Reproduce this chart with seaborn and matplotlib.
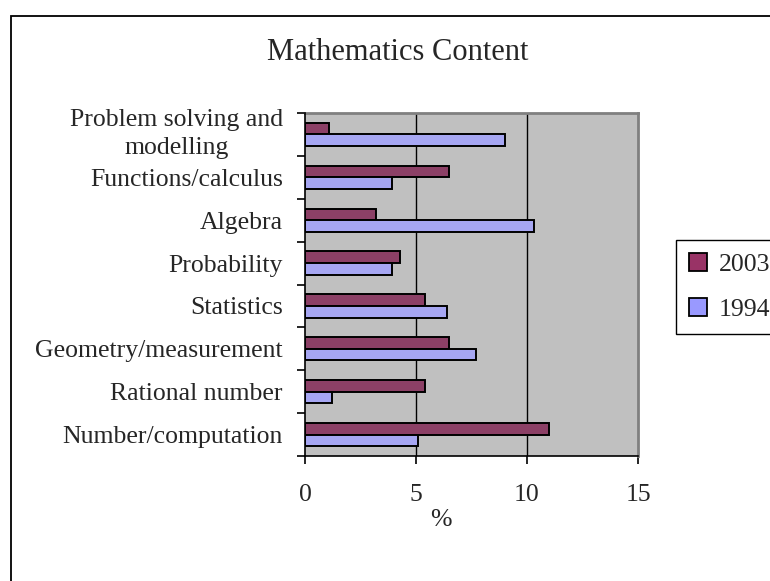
import matplotlib
matplotlib.use("Agg")
import matplotlib.pyplot as plt
from matplotlib.patches import Patch, Rectangle
from matplotlib.ticker import FixedLocator
import numpy as np
import pandas as pd
import seaborn as sns

# Topics, listed top to bottom as they appear on the chart
topics = [
    "Problem solving and\nmodelling",
    "Functions/calculus",
    "Algebra",
    "Probability",
    "Statistics",
    "Geometry/measurement",
    "Rational number",
    "Number/computation",
]
share_2003 = [1.1, 6.5, 3.2, 4.3, 5.4, 6.5, 5.4, 11.0]
share_1994 = [9.0, 3.9, 10.3, 3.9, 6.4, 7.7, 1.2, 5.1]
years = ["2003", "1994"]
x_ticks = [0, 5, 10, 15]

colors = {"2003": "#993366", "1994": "#9999FF"}

df = pd.concat([
    pd.DataFrame({"topic": topics, "pct": share_2003, "year": "2003"}),
    pd.DataFrame({"topic": topics, "pct": share_1994, "year": "1994"}),
], ignore_index=True)

sns.set_style("white")
plt.rcParams["font.family"] = ["Liberation Serif", "DejaVu Serif"]

W, H = 770, 581
fig = plt.figure(figsize=(W / 100, H / 100), dpi=100)
ax = fig.add_axes([305 / W, 1 - 456 / H, (638 - 305) / W, (456 - 113) / H])

sns.barplot(
    data=df, x="pct", y="topic", hue="year", hue_order=years,
    order=topics, palette=colors, width=0.545, gap=0,
    edgecolor="black", linewidth=1.4, legend=False, ax=ax, zorder=3,
)

ax.set_facecolor("#C0C0C0")
ax.set_xlim(x_ticks[0], x_ticks[-1])
ax.set_ylim(len(topics) - 0.5, -0.5)

# vertical gridlines at the interior ticks
for t in x_ticks[1:-1]:
    ax.axvline(t, color="black", lw=1.0, zorder=1)

ax.set_xticks(x_ticks)
ax.set_xticklabels([str(t) for t in x_ticks], fontsize=18.5)
ax.tick_params(axis="x", direction="out", length=6, width=1.2, color="black", pad=14, bottom=True)

# category labels centred on each group, tick marks on category boundaries
ax.set_yticks(range(len(topics)))
ax.set_yticklabels(topics, fontsize=18.5, multialignment="center", linespacing=1.35)
for lbl in ax.get_yticklabels():
    if "\n" in lbl.get_text():
        lbl.set_va("center")
ax.tick_params(axis="y", which="major", length=0, pad=16)
ax.yaxis.set_minor_locator(FixedLocator(np.arange(-0.5, len(topics), 1.0)))
ax.tick_params(axis="y", which="minor", direction="out", length=6, width=1.2, color="black", left=True)

ax.set_xlabel("")
ax.set_ylabel("")

for side in ("top", "right"):
    ax.spines[side].set_color("#808080")
    ax.spines[side].set_linewidth(2.0)
for side in ("left", "bottom"):
    ax.spines[side].set_color("black")
    ax.spines[side].set_linewidth(1.2)
    ax.spines[side].set_zorder(4)

fig.text(398 / W, 1 - 53 / H, "Mathematics Content", fontsize=22, ha="center", va="center")
fig.text(441 / W, 1 - 520 / H, "%", fontsize=18.5, ha="center", va="center")

# outer chart frame
fig.patches.append(Rectangle((11 / W, -0.1), 1.2, 1 - 16 / H + 0.1, transform=fig.transFigure,
                             fill=False, edgecolor="black", linewidth=1.3))

handles = [Patch(facecolor=colors[y], edgecolor="black", linewidth=1.3, label=y) for y in years]
fig.legend(
    handles=handles, loc="upper left", bbox_to_anchor=(676 / W, 1 - 240 / H),
    fontsize=18.5, frameon=True, fancybox=False, edgecolor="black", framealpha=1,
    handlelength=0.7, handleheight=0.7, handletextpad=0.45, borderpad=0.5,
    labelspacing=0.85, borderaxespad=0,
).get_frame().set_linewidth(1.0)

fig.savefig("out.png", dpi=100)
